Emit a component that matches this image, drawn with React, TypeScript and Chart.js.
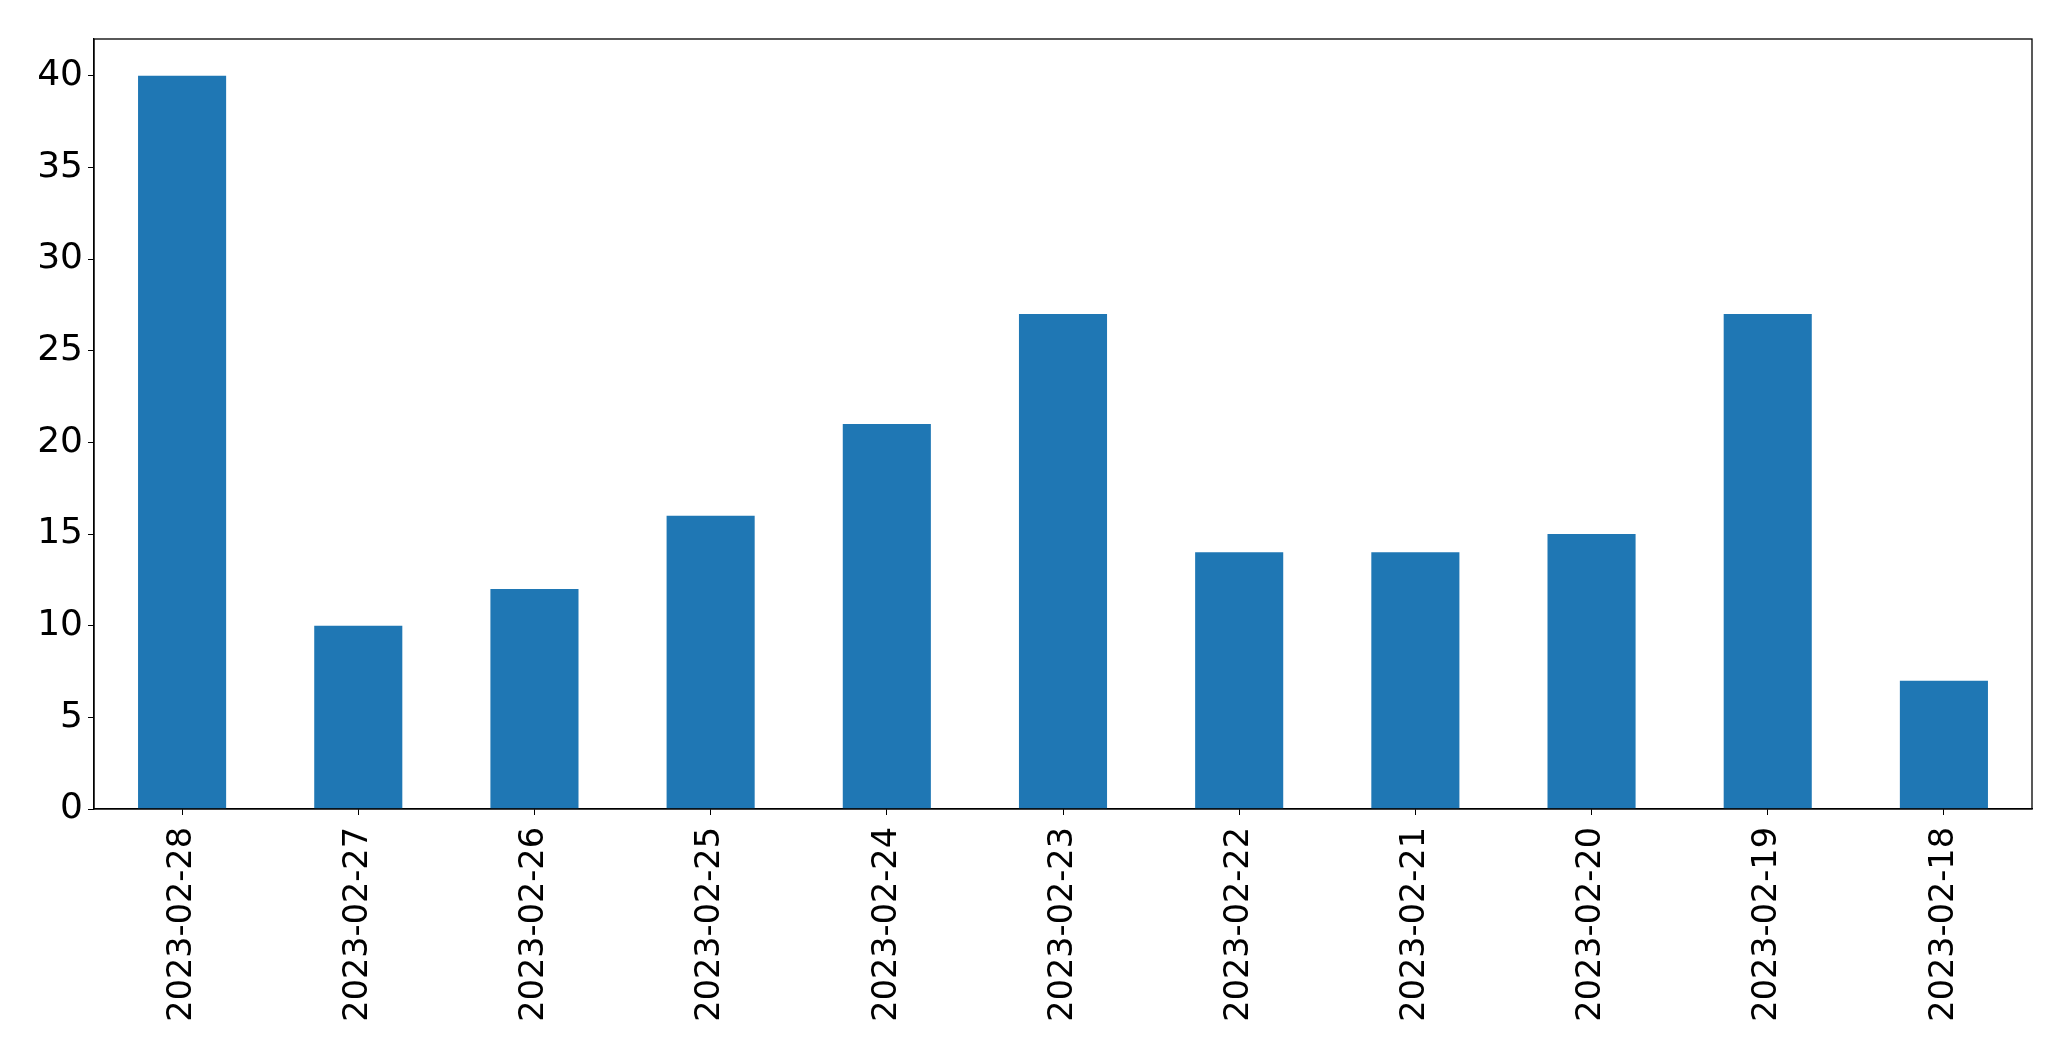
import React, { useEffect, useRef } from "react";
import { Chart, registerables } from "chart.js";

Chart.register(...registerables);

const categories: string[] = [
  "2023-02-28",
  "2023-02-27",
  "2023-02-26",
  "2023-02-25",
  "2023-02-24",
  "2023-02-23",
  "2023-02-22",
  "2023-02-21",
  "2023-02-20",
  "2023-02-19",
  "2023-02-18",
];
const counts: number[] = [40, 10, 12, 16, 21, 27, 14, 14, 15, 27, 7];
const yMin = 0;
const yMax = 42;
const yStep = 5;

const W = 2071;
const H = 1061;

const framePlugin = {
  id: "frame",
  afterDraw(chart: any) {
    const { ctx, chartArea } = chart;
    ctx.save();
    ctx.strokeStyle = "#000";
    ctx.lineWidth = 1.3;
    ctx.strokeRect(chartArea.left, chartArea.top, chartArea.right - chartArea.left, chartArea.bottom - chartArea.top);
    ctx.restore();
  },
};

export default function App() {
  const ref = useRef<HTMLCanvasElement | null>(null);
  useEffect(() => {
    if (!ref.current) return;
    const family = "'DejaVu Sans', sans-serif";
    const chart = new Chart(ref.current, {
      type: "bar",
      data: {
        labels: categories,
        datasets: [
          {
            data: counts,
            backgroundColor: "#1f77b4",
            borderWidth: 0,
            barPercentage: 0.5,
            categoryPercentage: 1,
          },
        ],
      },
      options: {
        responsive: false,
        animation: false,
        devicePixelRatio: 1,
        layout: { padding: { top: 39, right: 39, bottom: 0, left: 0 } },
        plugins: { legend: { display: false }, tooltip: { enabled: false } },
        scales: {
          x: {
            offset: true,
            grid: { drawOnChartArea: false, drawTicks: true, tickLength: 6, color: "#000", offset: false },
            border: { display: true, color: "#000", width: 1.3 },
            ticks: {
              color: "#000",
              font: { family, size: 33.5 },
              autoSkip: false,
              minRotation: 90,
              maxRotation: 90,
              padding: 12,
            },
            afterFit: (scale: any) => {
              scale.height = 252;
            },
          },
          y: {
            min: yMin,
            max: yMax,
            grid: { drawOnChartArea: false, drawTicks: true, tickLength: 6, color: "#000" },
            border: { display: true, color: "#000", width: 1.3 },
            ticks: {
              color: "#000",
              font: { family, size: 36 },
              stepSize: yStep,
              includeBounds: false,
              padding: 5,
            },
            afterFit: (scale: any) => {
              scale.width = 94;
            },
          },
        },
      },
      plugins: [framePlugin],
    });
    return () => chart.destroy();
  }, []);
  return (
    <div style={{ position: "absolute", left: 0, top: 0, width: W, height: H, background: "#fff" }}>
      <canvas ref={ref} width={W} height={H} style={{ width: W, height: H, display: "block" }} />
    </div>
  );
}
